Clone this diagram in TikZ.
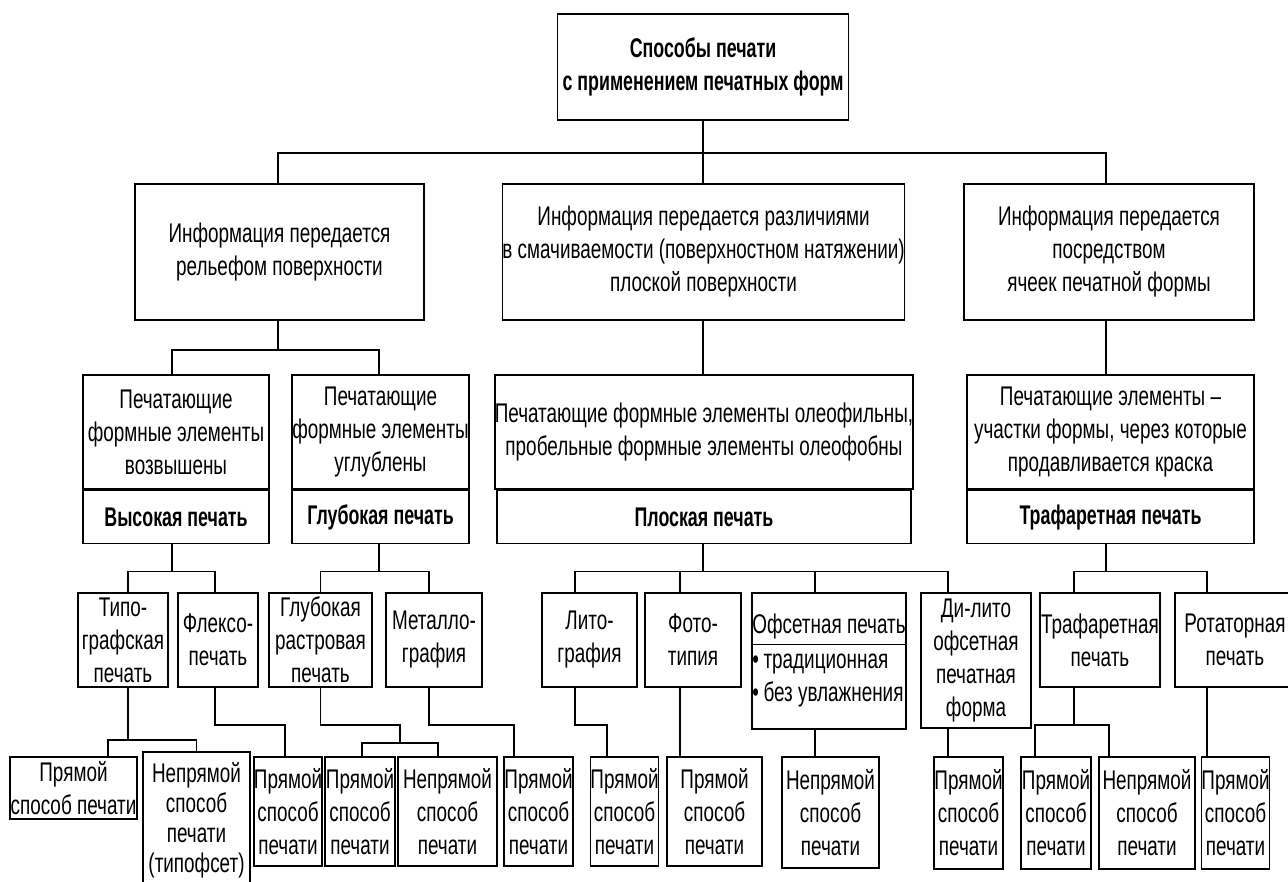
\documentclass[tikz,border=0pt]{standalone}
\usepackage{fontspec}
\setmainfont[FakeStretch=0.70,BoldFeatures={FakeStretch=0.66}]{Liberation Sans}
\usetikzlibrary{positioning}
\setlength{\arrayrulewidth}{1.4pt}

\begin{document}
\begin{tikzpicture}[x=1pt,y=-1pt,
box/.style={draw,line width=1.6pt,align=center,inner sep=0pt,font=\fontsize{27}{33}\selectfont},
head/.style={box,font=\bfseries\fontsize{27}{33}\selectfont},
link/.style={line width=1.6pt}]
\useasboundingbox (0,0) rectangle (1288,881);
\clip (0,0) rectangle (1288,881);
\node[head,minimum width=291,minimum height=106] (root) at (703,67) {Способы печати\\с применением печатных форм};
\node[box,minimum width=289,minimum height=136] (relief) at (279.5,252) {Информация передается\\рельефом поверхности};
\node[box,minimum width=401,minimum height=136] (wet) at (703.5,252) {Информация передается различиями\\в смачиваемости (поверхностном натяжении)\\плоской поверхности};
\node[box,minimum width=290,minimum height=136] (cell) at (1109,252) {Информация передается\\посредством\\ячеек печатной формы};
\node[box,minimum width=186,minimum height=114] (high) at (176,432) {Печатающие\\формные элементы\\возвышены};
\node[head,minimum width=186,minimum height=53,below=0pt of high] (highlbl) {Высокая печать};
\node[box,minimum width=177,minimum height=114] (deep) at (380.5,432) {Печатающие\\формные элементы\\углублены};
\node[head,minimum width=177,minimum height=53,below=0pt of deep] (deeplbl) {Глубокая печать};
\node[box,minimum width=414,minimum height=114] (flat) at (704,432) {Печатающие формные элементы олеофильны,\\пробельные формные элементы олеофобны};
\node[head,minimum width=414,minimum height=53,below=0pt of flat] (flatlbl) {Плоская печать};
\node[box,minimum width=287,minimum height=114] (screen) at (1110.5,432) {Печатающие элементы –\\участки формы, через которые\\продавливается краска};
\node[head,minimum width=287,minimum height=53,below=0pt of screen] (screenlbl) {Трафаретная печать};
\node[box,minimum width=90,minimum height=94] (typo) at (123,640) {Типо-\\графская\\печать};
\node[box,minimum width=80,minimum height=94] (flexo) at (218,640) {Флексо-\\печать};
\node[box,minimum width=103,minimum height=94] (gravure) at (320.5,640) {Глубокая\\растровая\\печать};
\node[box,minimum width=96,minimum height=94] (metal) at (434,640) {Металло-\\графия};
\node[box,minimum width=95,minimum height=94] (litho) at (589.5,640) {Лито-\\графия};
\node[box,minimum width=96,minimum height=94] (photo) at (693,640) {Фото-\\типия};
\node[box,minimum width=154,minimum height=136] (offset) at (829,661) {\begin{tabular}{@{}l@{}}Офсетная печать\\\hline\textbullet\,традиционная\\\textbullet\,без увлажнения\end{tabular}};
\node[box,minimum width=110,minimum height=135] (dilitho) at (976,660.5) {Ди-лито\\офсетная\\печатная\\форма};
\node[box,minimum width=120,minimum height=94] (stencil) at (1100,640) {Трафаретная\\печать};
\node[box,minimum width=120,minimum height=94] (rotary) at (1235,640) {Ротаторная\\печать};
\node[box,minimum width=127,minimum height=62] (typodir) at (73.5,788) {Прямой\\способ печати};
\node[box,minimum width=107,minimum height=136,font=\fontsize{27}{30}\selectfont] (typoind) at (196.5,820) {Непрямой\\способ\\печати\\(типофсет)};
\node[box,minimum width=68,minimum height=109] (flexodir) at (288,811.5) {Прямой\\способ\\печати};
\node[box,minimum width=70,minimum height=109] (gravdir) at (360,811.5) {Прямой\\способ\\печати};
\node[box,minimum width=99,minimum height=109] (gravind) at (447.5,811.5) {Непрямой\\способ\\печати};
\node[box,minimum width=69,minimum height=109] (metaldir) at (538.5,811.5) {Прямой\\способ\\печати};
\node[box,minimum width=67,minimum height=109] (lithodir) at (624.5,811.5) {Прямой\\способ\\печати};
\node[box,minimum width=95,minimum height=109] (photodir) at (714.5,811.5) {Прямой\\способ\\печати};
\node[box,minimum width=97,minimum height=111] (offsetind) at (830.5,812.5) {Непрямой\\способ\\печати};
\node[box,minimum width=69,minimum height=112] (dilithodir) at (968.5,813) {Прямой\\способ\\печати};
\node[box,minimum width=70,minimum height=112] (stencildir) at (1056,813) {Прямой\\способ\\печати};
\node[box,minimum width=96,minimum height=112] (stencilind) at (1147,813) {Непрямой\\способ\\печати};
\node[box,minimum width=65,minimum height=112] (rotarydir) at (1235.5,813) {Прямой\\способ\\печати};
\draw[link] (root.south) -- ++(0,32) coordinate (b1) -| ([xshift=-1.5]relief.north);
\draw[link] (b1) -| ([xshift=-3]cell.north);
\draw[link] (root.south) -- ([xshift=-0.5]wet.north);
\draw[link] ([xshift=-1.5]relief.south) -- ++(0,29) coordinate (b2) -| ([xshift=-4]high.north);
\draw[link] (b2) -| ([xshift=-1.5]deep.north);
\draw[link] ([xshift=-0.5]wet.south) -- ([xshift=-1]flat.north);
\draw[link] ([xshift=-3]cell.south) -- ([xshift=-4.5]screen.north);
\draw[link] ([xshift=-4]highlbl.south) -- ++(0,27) coordinate (b3) -| ([xshift=5]typo.north);
\draw[link] (b3) -| ([xshift=-3]flexo.north);
\draw[link] ([xshift=-1.5]deeplbl.south) -- ++(0,27) coordinate (b4) -| (gravure.north);
\draw[link] (b4) -| ([xshift=-5]metal.north);
\draw[link] ([xshift=-1]flatlbl.south) -- ++(0,27) coordinate (b5) -| ([xshift=-14.5]litho.north);
\draw[link] (b5) -| ([xshift=-13]photo.north);
\draw[link] (b5) -| ([xshift=-14]offset.north);
\draw[link] (b5) -| ([xshift=-28]dilitho.north);
\draw[link] ([xshift=-4.5]screenlbl.south) -- ++(0,27) coordinate (b6) -| ([xshift=-26]stencil.north);
\draw[link] (b6) -| ([xshift=-28]rotary.north);
\draw[link] ([xshift=5]typo.south) -- ++(0,52) coordinate (b7) -| ([xshift=34.5]typodir.north);
\draw[link] (b7) -| (typoind.north);
\draw[link] ([xshift=-3]flexo.south) -- ++(0,37) -| ([xshift=-3]flexodir.north);
\draw[link] (gravure.south) -- ++(0,37) -- ++(79.5,0) -- ++(0,18) coordinate (b8) -| ([xshift=2]gravdir.north);
\draw[link] (b8) -| ([xshift=-9.5]gravind.north);
\draw[link] ([xshift=-5]metal.south) -- ++(0,37) -| ([xshift=-24.5]metaldir.north);
\draw[link] ([xshift=-14.5]litho.south) -- ++(0,37) -| ([xshift=-17.5]lithodir.north);
\draw[link] ([xshift=-13]photo.south) -- ([xshift=-34.5]photodir.north);
\draw[link] ([xshift=-14]offset.south) -- ([xshift=-15.5]offsetind.north);
\draw[link] ([xshift=-28]dilitho.south) -- ([xshift=-20.5]dilithodir.north);
\draw[link] ([xshift=-26]stencil.south) -- ++(0,37) coordinate (b9) -| ([xshift=-21]stencildir.north);
\draw[link] (b9) -| ([xshift=-38]stencilind.north);
\draw[link] ([xshift=-28]rotary.south) -- ([xshift=-28.5]rotarydir.north);
\end{tikzpicture}
\end{document}
